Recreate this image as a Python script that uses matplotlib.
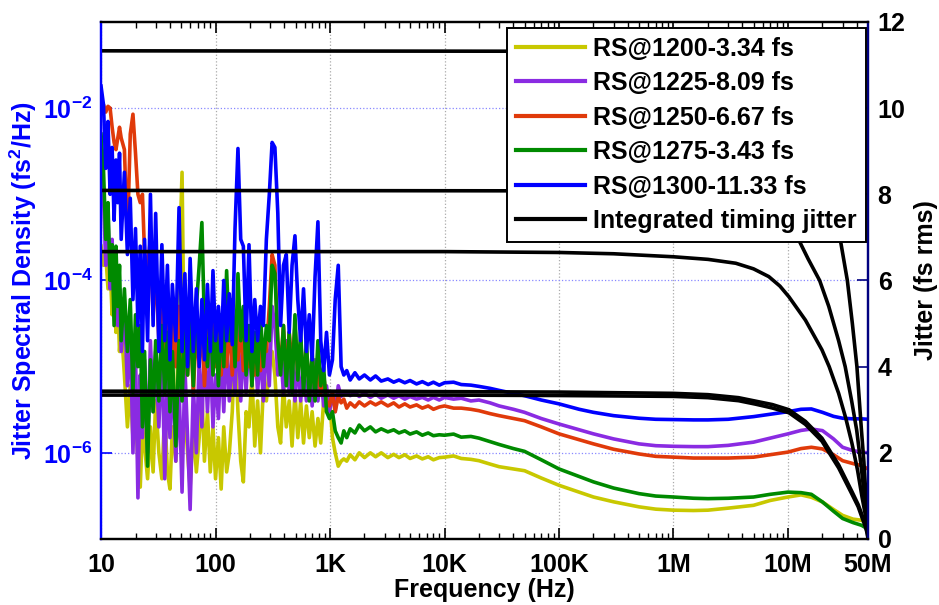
import matplotlib
matplotlib.use('Agg')
import matplotlib.pyplot as plt
from matplotlib.ticker import FixedLocator, LogLocator, NullLocator, NullFormatter

plt.rcParams['font.family'] = ['Liberation Sans', 'DejaVu Sans']
plt.rcParams['font.weight'] = 'bold'
plt.rcParams['axes.labelweight'] = 'bold'
plt.rcParams['mathtext.fontset'] = 'custom'
plt.rcParams['mathtext.rm'] = 'Liberation Sans:bold'
plt.rcParams['mathtext.bf'] = 'Liberation Sans:bold'
plt.rcParams['mathtext.default'] = 'bf'

# 频率轴（低频噪声段 + 高频平滑段）
freq_low = [10, 10.5, 11, 11.5, 12, 12.5, 13, 13.5, 14, 14.5,
            15, 16, 17, 18, 19, 20, 21, 22, 23, 24,
            25.5, 27, 28.5, 30, 32, 34, 36, 38, 40, 42,
            45, 48, 51, 54, 57, 60, 64, 68, 72, 76,
            80, 85, 90, 95, 100, 106, 112, 118, 125, 132,
            140, 148, 157, 166, 175, 185, 196, 208, 220, 233,
            247, 262, 278, 295, 312, 330, 350, 370, 392, 415,
            440, 466, 494, 523, 554, 587, 622, 659, 698, 740,
            784, 830, 880, 932, 988, 1050, 1110, 1180, 1250, 1320]
freq_high = [1400, 1500, 1650, 1800, 2000, 2250, 2500, 2800, 3200, 3600,
             4000, 4500, 5000, 5700, 6400, 7200, 8000, 9000, 1e4, 1.2e4,
             1.4e4, 1.7e4, 2e4, 2.5e4, 3e4, 4e4, 5e4, 7e4, 1e5, 1.5e5,
             2e5, 3e5, 5e5, 7e5, 1e6, 1.5e6, 2e6, 3e6, 5e6, 7e6,
             1e7, 1.3e7, 1.6e7, 2e7, 2.5e7, 3e7, 3.7e7, 4.4e7, 5e7]

# 相位噪声谱 (fs^2/Hz)
rs1200_low = [2.5e-4, 1.5e-4, 2e-4, 8e-5, 1.5e-4, 4e-5, 9e-5, 2.5e-5, 6e-5, 1.5e-5,
              3e-5, 8e-6, 2e-6, 6e-6, 1.5e-6, 3e-6, 8e-7, 4e-7, 2e-6, 1.2e-6,
              5e-7, 2e-6, 6e-7, 4e-6, 1e-6, 5e-7, 3e-6, 6e-7, 3.8e-7, 2e-6,
              8e-7, 1.2e-4, 1.8e-3, 3e-6, 1e-6, 4e-7, 2e-6, 6e-7, 1.5e-6, 5e-6,
              8e-7, 3e-6, 6e-7, 2e-6, 5e-7, 1.5e-6, 3.8e-7, 2e-6, 6e-7, 1e-6,
              3e-6, 2e-5, 3e-6, 8e-7, 4.6e-7, 3e-6, 2e-6, 8e-6, 1.2e-6, 4e-6,
              1e-6, 6e-6, 4e-6, 1e-5, 1.5e-5, 8e-6, 2e-6, 1.3e-6, 6e-6, 2e-6,
              4e-6, 1.2e-6, 5e-6, 1.5e-6, 4e-6, 1.3e-6, 3.5e-6, 1.5e-6, 3e-6, 1.2e-6,
              2.5e-6, 1.3e-6, 4e-6, 3e-6, 4.5e-6, 1.5e-6, 1e-6, 7e-7, 8e-7, 8.5e-7]
rs1200_high = [8e-7, 9.5e-7, 8.3e-7, 1.0e-6, 8.8e-7, 1.0e-6, 9e-7, 1.0e-6, 8.8e-7, 9.6e-7,
               8.8e-7, 9.5e-7, 8.6e-7, 9.2e-7, 8.5e-7, 9e-7, 8.3e-7, 8.8e-7, 8.9e-7, 9.2e-7,
               8.6e-7, 8.4e-7, 8.1e-7, 7.4e-7, 6.9e-7, 6.5e-7, 6.2e-7, 5.1e-7, 4.2e-7, 3.5e-7,
               3.07e-7, 2.7e-7, 2.36e-7, 2.22e-7, 2.16e-7, 2.14e-7, 2.16e-7, 2.28e-7, 2.46e-7, 2.8e-7,
               3.07e-7, 3.25e-7, 3.05e-7, 2.69e-7, 2.2e-7, 1.88e-7, 1.7e-7, 1.65e-7, 1.5e-7]

rs1225_low = [2e-3, 1e-3, 1.5e-4, 6e-4, 8e-5, 3e-4, 5e-5, 1.5e-4, 3e-5, 8e-5,
              1.5e-5, 5e-5, 6e-6, 3e-5, 1e-6, 1.5e-5, 3e-7, 8e-6, 1.5e-6, 1.2e-5,
              1e-6, 2e-5, 3e-6, 1.5e-5, 2e-6, 2e-5, 5e-7, 8e-6, 1.5e-6, 1e-5,
              8e-7, 6e-6, 3.5e-7, 1e-5, 1.5e-6, 2.2e-7, 6e-6, 1e-6, 1.2e-5, 2e-6,
              2e-5, 3e-6, 1.5e-5, 2e-6, 8e-6, 2.5e-6, 1.5e-5, 3e-6, 2e-5, 4e-6,
              1.5e-5, 5e-6, 3e-5, 4e-6, 2e-5, 5e-6, 2.5e-5, 6e-6, 2e-5, 5e-6,
              1.5e-5, 4e-6, 2e-5, 6e-6, 5e-5, 3e-5, 8e-6, 1.5e-5, 5e-6, 2e-5,
              5e-6, 1.5e-5, 4e-6, 1.2e-5, 4e-6, 1e-5, 4e-6, 9e-6, 3.5e-6, 1.2e-5,
              4e-6, 8e-6, 3.5e-6, 6e-6, 3e-6, 5e-6, 3e-6, 6e-6, 4.5e-6, 5e-6]
rs1225_high = [5e-6, 4.6e-6, 5e-6, 4.5e-6, 4.9e-6, 4.4e-6, 4.8e-6, 4.3e-6, 4.7e-6, 4.3e-6,
               4.6e-6, 4.2e-6, 4.5e-6, 4.2e-6, 4.4e-6, 4.1e-6, 4.4e-6, 4.1e-6, 4.4e-6, 4.2e-6,
               4.3e-6, 4.0e-6, 4.1e-6, 3.8e-6, 3.5e-6, 3.2e-6, 2.95e-6, 2.5e-6, 2.16e-6, 1.85e-6,
               1.66e-6, 1.45e-6, 1.27e-6, 1.21e-6, 1.19e-6, 1.18e-6, 1.18e-6, 1.22e-6, 1.33e-6, 1.48e-6,
               1.66e-6, 1.82e-6, 1.89e-6, 1.81e-6, 1.45e-6, 1.16e-6, 1.06e-6, 1.02e-6, 1.0e-6]

rs1250_low = [9e-3, 1.1e-2, 9e-3, 1.05e-2, 1e-2, 6e-3, 4e-3, 3.3e-3, 4.5e-3, 6e-3,
              4.5e-3, 3.3e-3, 3e-4, 5e-3, 8.5e-3, 3e-3, 1e-3, 8e-4, 1e-3, 2e-4,
              1.5e-4, 3e-4, 4e-5, 1.5e-4, 2e-5, 8e-5, 1e-5, 6e-5, 8e-6, 4e-5,
              1e-5, 5e-5, 6e-6, 3e-5, 8e-6, 4e-5, 5e-6, 3e-5, 1e-5, 4e-5,
              6e-6, 3e-5, 1.5e-5, 5e-5, 1e-5, 3e-5, 8e-6, 2.5e-5, 1e-5, 3.5e-5,
              8e-6, 2.5e-5, 1.2e-5, 3e-5, 9e-6, 2e-5, 1e-5, 3e-5, 8e-6, 2.5e-5,
              9e-6, 2e-5, 1.5e-5, 5e-5, 2e-4, 1.5e-4, 2e-5, 1e-5, 3e-5, 8e-6,
              2.5e-5, 1e-5, 3e-5, 8e-6, 2e-5, 7e-6, 1.5e-5, 6e-6, 1.2e-5, 5e-6,
              1e-5, 5e-6, 8e-6, 4e-6, 3.5e-6, 5e-6, 3e-6, 4.5e-6, 3.8e-6, 4.2e-6]
rs1250_high = [3.3e-6, 3.8e-6, 3.4e-6, 3.9e-6, 3.5e-6, 3.9e-6, 3.6e-6, 3.9e-6, 3.5e-6, 3.8e-6,
               3.4e-6, 3.7e-6, 3.4e-6, 3.6e-6, 3.3e-6, 3.5e-6, 3.2e-6, 3.4e-6, 3.5e-6, 3.3e-6,
               3.3e-6, 3.2e-6, 3.08e-6, 2.85e-6, 2.7e-6, 2.5e-6, 2.36e-6, 2.0e-6, 1.66e-6, 1.42e-6,
               1.27e-6, 1.1e-6, 9.7e-7, 9.1e-7, 8.9e-7, 8.7e-7, 8.7e-7, 8.7e-7, 8.9e-7, 9.5e-7,
               1.02e-6, 1.12e-6, 1.16e-6, 1.11e-6, 9.5e-7, 8.1e-7, 7.5e-7, 7.1e-7, 6.5e-7]

rs1275_low = [5e-3, 2e-3, 3e-4, 8e-4, 1e-4, 2.6e-4, 3e-5, 2.5e-4, 5e-5, 1.5e-4,
              2e-5, 8e-5, 1.5e-5, 6e-5, 5e-6, 4e-5, 1e-5, 3e-5, 2e-6, 1.5e-5,
              7e-7, 1.2e-5, 3e-6, 2e-5, 4e-6, 3e-5, 5e-6, 2.5e-5, 3e-6, 1.5e-5,
              1.2e-6, 2e-5, 4e-6, 3e-5, 8e-6, 4e-5, 6e-6, 5e-5, 1.5e-4, 4.7e-4,
              3e-5, 1e-5, 4e-5, 8e-6, 3e-5, 6e-6, 4e-5, 1e-5, 1.3e-4, 2e-5,
              6e-5, 1e-5, 1.2e-4, 2e-5, 5e-5, 8e-6, 3e-5, 6e-6, 2.5e-5, 8e-6,
              4e-5, 1e-5, 3e-5, 2e-5, 1.5e-4, 1.2e-4, 2e-5, 8e-6, 3e-5, 6e-6,
              2.5e-5, 5e-6, 4e-5, 7e-6, 2.5e-5, 5e-6, 2e-5, 4e-6, 1.5e-5, 4e-6,
              2e-5, 6e-6, 1e-5, 3e-6, 2.5e-6, 3e-6, 1.8e-6, 1.5e-6, 1.3e-6, 1.8e-6]
rs1275_high = [1.5e-6, 1.9e-6, 1.7e-6, 2.1e-6, 1.8e-6, 2.0e-6, 1.75e-6, 1.9e-6, 1.75e-6, 1.85e-6,
               1.7e-6, 1.8e-6, 1.65e-6, 1.75e-6, 1.6e-6, 1.7e-6, 1.58e-6, 1.62e-6, 1.6e-6, 1.65e-6,
               1.52e-6, 1.55e-6, 1.48e-6, 1.35e-6, 1.25e-6, 1.12e-6, 1.04e-6, 8.3e-7, 6.5e-7, 5.3e-7,
               4.6e-7, 3.9e-7, 3.36e-7, 3.15e-7, 3.07e-7, 2.97e-7, 2.94e-7, 2.97e-7, 3.07e-7, 3.3e-7,
               3.5e-7, 3.45e-7, 3.3e-7, 2.69e-7, 2.1e-7, 1.73e-7, 1.55e-7, 1.44e-7, 1.3e-7]

rs1300_low = [1.8e-2, 1.1e-2, 2e-3, 7e-3, 1e-3, 3.5e-3, 5e-4, 2.5e-3, 8e-4, 3e-3,
              3e-4, 1.8e-3, 2e-4, 9e-4, 6e-5, 4e-4, 3e-5, 2.5e-4, 1.5e-5, 3e-4,
              2e-5, 1e-3, 3e-5, 6e-4, 1.5e-5, 2.6e-4, 2e-5, 1.5e-4, 1.2e-5, 9e-5,
              2e-5, 7e-4, 1.5e-5, 1.2e-4, 1e-5, 1.8e-4, 1.5e-5, 8e-5, 1e-5, 6e-5,
              1.2e-5, 9e-5, 1.5e-5, 1.3e-4, 2e-5, 5e-5, 1.5e-5, 1e-4, 2e-5, 7e-5,
              1.8e-5, 4e-4, 3.4e-3, 3e-4, 2.5e-4, 2e-5, 2.6e-4, 1.5e-5, 6e-5, 2e-5,
              5e-5, 3e-5, 3e-4, 1e-3, 4e-3, 3.5e-3, 6e-4, 3e-5, 1.5e-4, 2e-4,
              2.5e-5, 1.5e-4, 3.3e-4, 6e-5, 2e-5, 8e-5, 1.5e-5, 4e-5, 1.2e-5, 1.1e-4,
              4.8e-4, 2e-5, 9e-6, 2.5e-5, 8e-6, 1.2e-5, 6e-5, 1.5e-4, 1e-5, 8e-6]
rs1300_high = [9e-6, 7e-6, 8.5e-6, 7.2e-6, 8e-6, 7e-6, 7.8e-6, 6.8e-6, 7.2e-6, 6.6e-6,
               7e-6, 6.5e-6, 6.9e-6, 6.3e-6, 6.7e-6, 6.2e-6, 6.6e-6, 6.1e-6, 6.5e-6, 6.6e-6,
               6.2e-6, 6.1e-6, 5.9e-6, 5.6e-6, 5.3e-6, 4.9e-6, 4.6e-6, 4.1e-6, 3.7e-6, 3.2e-6,
               2.95e-6, 2.7e-6, 2.52e-6, 2.45e-6, 2.43e-6, 2.41e-6, 2.41e-6, 2.45e-6, 2.63e-6, 2.8e-6,
               3.0e-6, 3.2e-6, 3.23e-6, 2.95e-6, 2.65e-6, 2.52e-6, 2.48e-6, 2.48e-6, 2.45e-6]

# 积分时间抖动 (fs rms)，从高频端反向积分
jit1200_f = [10, 1e3, 1e4, 1e5, 1e6, 2e6, 3.7e6, 5.2e6, 7.3e6, 1.02e7, 1.42e7, 1.98e7, 2.77e7, 3.62e7, 4.1e7, 4.43e7, 4.75e7, 4.93e7, 5e7]
jit1200 = [3.34, 3.34, 3.34, 3.33, 3.31, 3.28, 3.21, 3.13, 3.04, 2.93, 2.66, 2.27, 1.65, 1.04, 0.75, 0.5, 0.28, 0.12, 0]
jit1275_f = [10, 1e3, 1e4, 1e5, 1e6, 2e6, 3.7e6, 5.2e6, 7.3e6, 1.02e7, 1.42e7, 1.98e7, 2.77e7, 3.62e7, 4.1e7, 4.43e7, 4.75e7, 4.93e7, 5e7]
jit1275 = [3.43, 3.43, 3.42, 3.41, 3.38, 3.35, 3.28, 3.2, 3.12, 3.0, 2.73, 2.34, 1.72, 1.1, 0.8, 0.56, 0.32, 0.15, 0]
jit1250_f = [10, 1e4, 1e5, 3e5, 1e6, 2e6, 3.5e6, 5e6, 6.8e6, 8.5e6, 1.02e7, 1.42e7, 1.98e7, 2.29e7, 2.77e7, 3.2e7, 3.62e7, 4.05e7, 4.43e7, 4.75e7, 4.93e7, 5e7]
jit1250 = [6.67, 6.67, 6.65, 6.62, 6.55, 6.49, 6.4, 6.27, 6.09, 5.87, 5.62, 5.08, 4.39, 4.0, 3.38, 2.8, 2.22, 1.6, 0.98, 0.55, 0.25, 0]
jit1225_f = [10, 1e5, 1e6, 3e6, 5e6, 7e6, 1e7, 1.16e7, 1.5e7, 1.89e7, 2.27e7, 2.77e7, 3.16e7, 3.6e7, 3.98e7, 4.35e7, 4.66e7, 4.88e7, 5e7]
jit1225 = [8.09, 8.08, 8.0, 7.85, 7.68, 7.5, 7.25, 7.1, 6.5, 6.0, 5.4, 4.6, 4.0, 3.2, 2.53, 1.7, 0.98, 0.5, 0]
jit1300_f = [10, 1e5, 1e6, 3e6, 5e6, 7e6, 1e7, 1.3e7, 1.6e7, 2e7, 2.4e7, 2.77e7, 3.3e7, 3.65e7, 4.0e7, 4.38e7, 4.6e7, 4.8e7, 4.93e7, 5e7]
jit1300 = [11.33, 11.32, 11.2, 11.0, 10.75, 10.5, 10.2, 9.7, 9.2, 8.5, 7.8, 7.17, 6.0, 5.0, 4.0, 2.53, 1.8, 0.98, 0.5, 0]

labels = ['RS@1200-3.34 fs', 'RS@1225-8.09 fs', 'RS@1250-6.67 fs', 'RS@1275-3.43 fs', 'RS@1300-11.33 fs']
colors = ['#c8c800', '#8a2be2', '#e03a0a', '#008a00', '#0000ff']

x_ticks = [10, 100, 1e3, 1e4, 1e5, 1e6, 1e7, 5e7]
x_tick_labels = ['10', '100', '1K', '10K', '100K', '1M', '10M', '50M']
y_ticks = [1e-6, 1e-4, 1e-2]
y_tick_labels = [r'$10^{-6}$', r'$10^{-4}$', r'$10^{-2}$']

psd = [(rs1200_low, rs1200_high), (rs1225_low, rs1225_high), (rs1250_low, rs1250_high),
       (rs1275_low, rs1275_high), (rs1300_low, rs1300_high)]
jitter = [(jit1200_f, jit1200), (jit1225_f, jit1225), (jit1250_f, jit1250),
          (jit1275_f, jit1275), (jit1300_f, jit1300)]

fig = plt.figure(figsize=(9.39, 6.05), dpi=100)
ax = fig.add_axes([0.1076, 0.1091, 0.8168, 0.8546])
ax2 = ax.twinx()

handles = []
for (low, high), c, lab in zip(psd, colors, labels):
    h, = ax.plot(freq_low + freq_high, low + high, color=c, lw=2.6, label=lab)
    handles.append(h)

for f, j in jitter:
    hj, = ax2.plot(f, j, color='black', lw=2.6)
hj.set_label('Integrated timing jitter')
handles.append(hj)

ax.set_xscale('log')
ax.set_yscale('log')
ax.set_xlim(10, 5e7)
ax.set_ylim(1e-7, 1e-1)
ax.xaxis.set_major_locator(FixedLocator(x_ticks))
ax.set_xticklabels(x_tick_labels)
ax.xaxis.set_minor_locator(LogLocator(base=10, subs=range(2, 10), numticks=30))
ax.xaxis.set_minor_formatter(NullFormatter())
ax.yaxis.set_major_locator(FixedLocator(y_ticks))
ax.set_yticklabels(y_tick_labels)
ax.yaxis.set_minor_locator(NullLocator())

ax.tick_params(axis='x', which='both', direction='in', top=True, labelsize=18, pad=10)
ax.tick_params(axis='x', which='major', length=8, width=1.2)
ax.tick_params(axis='x', which='minor', length=4, width=1.0)
ax.tick_params(axis='y', which='major', direction='in', colors='blue', labelsize=18,
               length=8, width=1.2, pad=6)

ax.grid(True, which='major', axis='x', color='#aaaaaa', linestyle=':', lw=0.9)
ax.grid(True, which='major', axis='y', color='#8888ff', linestyle=':', lw=0.9)
ax.set_axisbelow(True)

ax2.set_ylim(0, 12)
ax2.set_yticks(range(0, 13, 2))
ax2.tick_params(axis='y', direction='in', labelsize=18, length=8, width=1.2,
                color='#000080', labelcolor='black', pad=7)

for a in (ax, ax2):
    for s in a.spines.values():
        s.set_linewidth(1.6)
    a.spines['left'].set_color('blue')
    a.spines['right'].set_color('#000080')

ax.set_xlabel('Frequency (Hz)', fontsize=18, fontweight='bold', labelpad=1)
ax.set_ylabel('Jitter Spectral Density (fs$^2$/Hz)', fontsize=18, fontweight='bold',
              color='blue', labelpad=3)
ax2.set_ylabel('Jitter (fs rms)', fontsize=18, fontweight='bold', labelpad=6)

leg = ax2.legend(handles=handles, loc='upper right', bbox_to_anchor=(0.9975, 0.989),
                 borderaxespad=0, fontsize=18, handlelength=2.75, handletextpad=0.35,
                 labelspacing=0.42, borderpad=0.36, fancybox=False, framealpha=1)
leg.get_frame().set_edgecolor('black')
leg.get_frame().set_linewidth(1.4)
for line in leg.get_lines():
    line.set_linewidth(3)

fig.savefig('out.png', dpi=100)
